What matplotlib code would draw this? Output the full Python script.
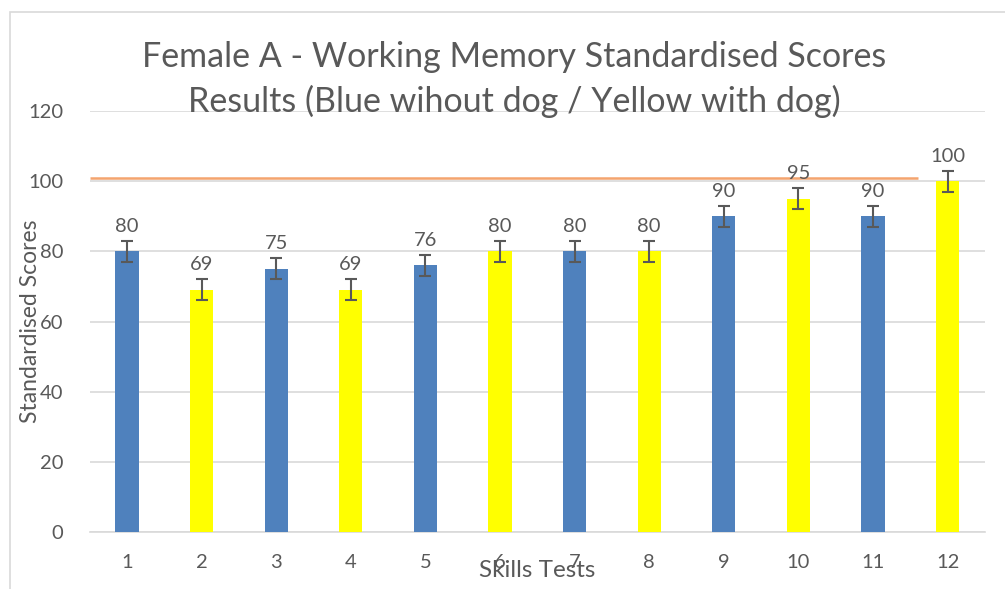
import numpy as np
import matplotlib.pyplot as plt
from matplotlib.patches import Rectangle

# data
tests = [1, 2, 3, 4, 5, 6, 7, 8, 9, 10, 11, 12]
scores = [80, 69, 75, 69, 76, 80, 80, 80, 90, 95, 90, 100]
errors = [3] * 12
with_dog = [False, True] * 6
ref_level = 101

BLUE = '#4F81BD'
YELLOW = '#FFFF00'
TEXT = '#595959'
GRID = '#D9D9D9'

plt.rcParams['font.family'] = ['Lato', 'DejaVu Sans']

fig = plt.figure(figsize=(10.05, 5.89), dpi=100)
ax = fig.add_axes([0.0893, 0.0968, 0.8907, 0.7147])

# chart frame
fig.patches.append(Rectangle((10 / 1005, -0.1), 1.2, 1 - 12 / 589 + 0.1,
                             transform=fig.transFigure, fill=False,
                             edgecolor=GRID, lw=1.2))

colors = [YELLOW if d else BLUE for d in with_dog]
ax.bar(tests, scores, width=0.31, color=colors, zorder=3)
ax.errorbar(tests, scores, yerr=errors, fmt='none', ecolor=TEXT,
            elinewidth=1.5, capsize=4.5, capthick=1.5, zorder=4)

for x, y in zip(tests, scores):
    ax.annotate(str(y), (x, y), xytext=(0, 12), textcoords='offset points',
                ha='center', va='bottom', fontsize=14.5, color=TEXT)

ax.plot([0.5, 11.6], [ref_level, ref_level], color='#F4A46E', lw=1.8,
        zorder=2, solid_capstyle='butt')

ax.set_xlim(0.5, 12.5)
ax.set_ylim(0, 120)
ax.set_yticks(range(0, 121, 20))
ax.set_xticks(tests)
ax.grid(axis='y', color=GRID, lw=1.2, zorder=0)
ax.tick_params(length=0, labelsize=14.5, labelcolor=TEXT)
ax.tick_params(axis='x', pad=16)
ax.tick_params(axis='y', pad=19)
for s in ['top', 'right', 'left']:
    ax.spines[s].set_visible(False)
ax.spines['bottom'].set_color(GRID)
ax.spines['bottom'].set_linewidth(1.2)

ax.set_xlabel('Skills Tests', fontsize=17.5, color=TEXT, labelpad=-8)
ax.set_ylabel('Standardised Scores', fontsize=16.5, color=TEXT, labelpad=-9)

fig.text(0.512, 1 - 57 / 589, 'Female A - Working Memory Standardised Scores',
         ha='center', va='center', fontsize=24.5, color=TEXT)
fig.text(0.512, 1 - 101 / 589, 'Results (Blue wihout dog / Yellow with dog)',
         ha='center', va='center', fontsize=24.5, color=TEXT)

fig.savefig('out.png', dpi=100)
